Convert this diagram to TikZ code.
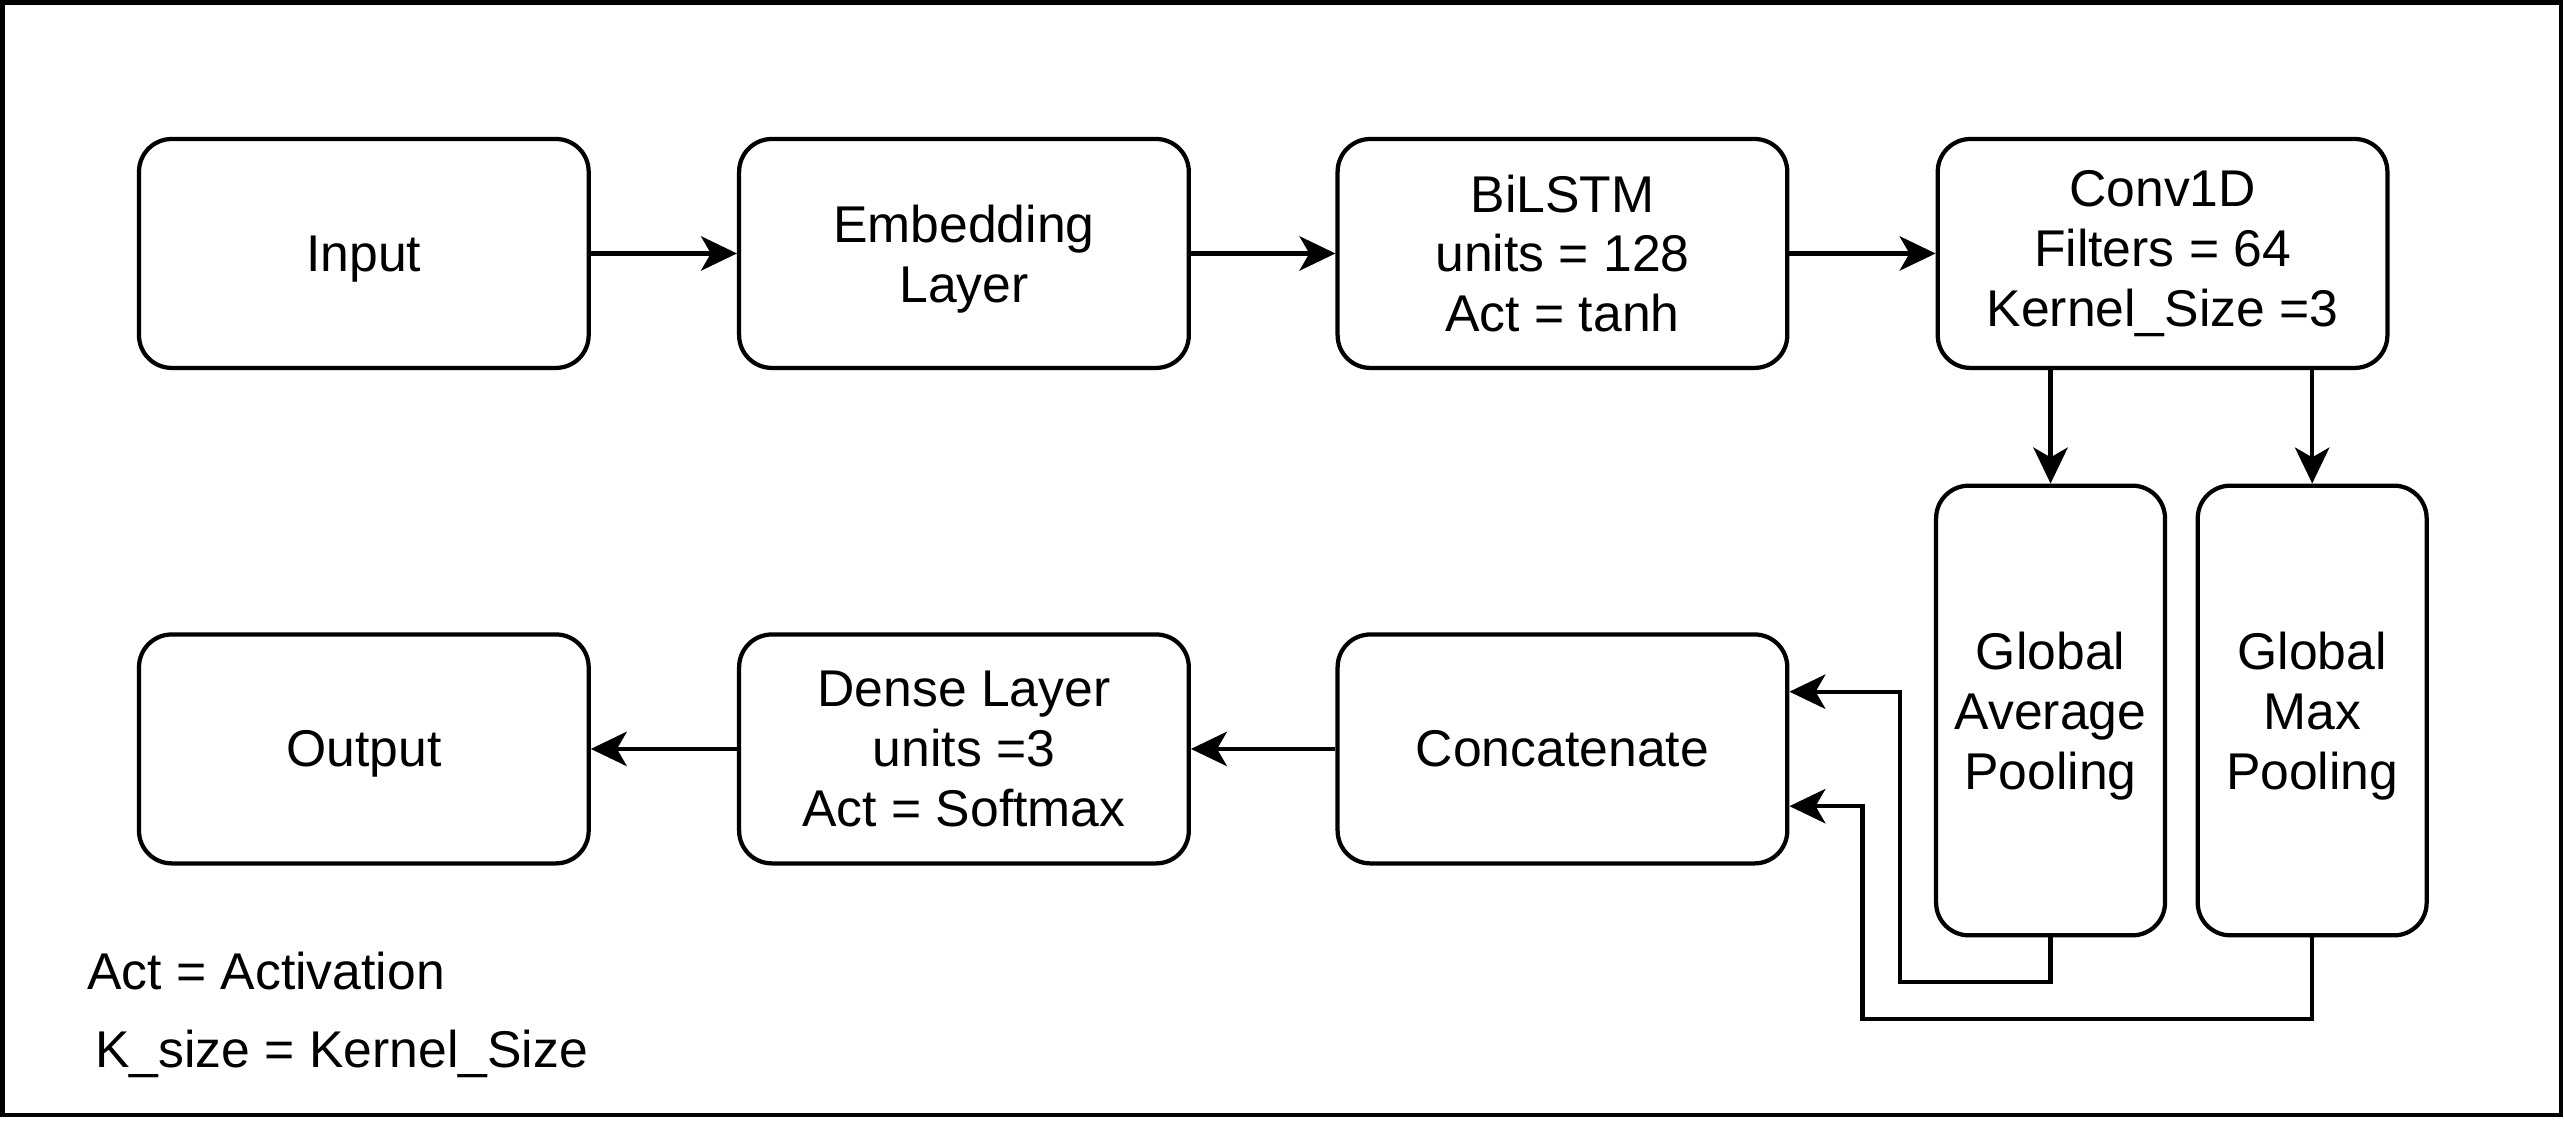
\documentclass[tikz,border=0pt]{standalone}
\usepackage{fontspec}
\setmainfont{Liberation Sans}
\usetikzlibrary{arrows.meta,calc}
\begin{document}
\begin{tikzpicture}[x=0.5pt,y=-0.5pt,
  every node/.style={font=\fontsize{15.8}{18.3}\selectfont},
  wbox/.style={draw,line width=1.3pt,rounded corners=10pt,minimum width=137.5pt,minimum height=70pt,align=center,inner sep=0pt},
  tbox/.style={draw,line width=1.3pt,rounded corners=10pt,minimum width=70pt,minimum height=137.5pt,align=center,inner sep=0pt,text depth=0pt},
  arr/.style={line width=1.3pt,-{Stealth[length=11pt,width=10.5pt,inset=3pt]}},
  note/.style={anchor=base west,inner sep=0pt}]
\useasboundingbox (0,0) rectangle (1568,685);
\draw[line width=1.3pt] (1.5,1.5) rectangle (1566,682);
\node[wbox,text depth=0pt] (input) at (222.5,155) {Input};
\node[wbox,text depth=0pt] (emb) at (589.5,155) {Embedding\\Layer};
\node[wbox] (bilstm) at (955.5,155) {BiLSTM\\units = 128\\Act = tanh};
\node[wbox] (conv) at (1322.5,155) {Conv1D\\Filters = 64\\Kernel\_Size =3};
\node[tbox] (gap) at (1254,434.5) {Global\\Average\\Pooling};
\node[tbox] (gmp) at (1414,434.5) {Global\\Max\\Pooling};
\node[wbox,text depth=0pt] (output) at (222.5,458) {Output};
\node[wbox] (dense) at (589.5,458) {Dense Layer\\units =3\\Act = Softmax};
\node[wbox] (concat) at (955.5,458) {Concatenate};
\node[note] (n1) at (53,605) {Act = Activation};
\node[note] (n2) at (58,653) {K\_size = Kernel\_Size};
\draw[arr] (input) -- (emb);
\draw[arr] (emb) -- (bilstm);
\draw[arr] (bilstm) -- (conv);
\draw[arr] (gap.north |- conv.south) -- (gap.north);
\draw[arr] (gmp.north |- conv.south) -- (gmp.north);
\draw[arr] (gap.south) -- ++(0,27) -- ++(-92,0) |- ($(concat.east)+(0,-35)$);
\draw[arr] (gmp.south) -- ++(0,50) -- ++(-275,0) |- ($(concat.east)+(0,35)$);
\draw[arr] (concat) -- (dense);
\draw[arr] (dense) -- (output);
\end{tikzpicture}
\end{document}
